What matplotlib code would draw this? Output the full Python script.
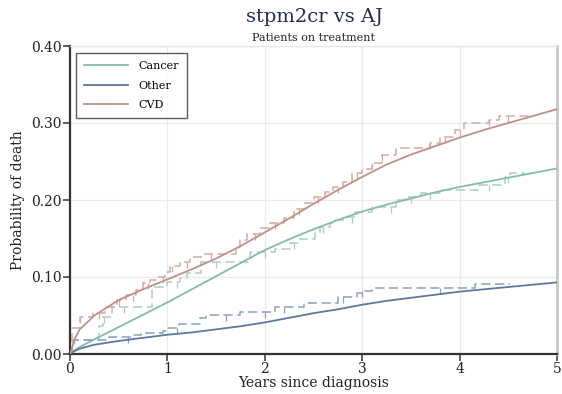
import numpy as np
import matplotlib
matplotlib.use("Agg")
import matplotlib.pyplot as plt

plt.rcParams['font.family'] = ['DejaVu Serif']

# smooth model curves (stpm2cr)
t_grid = [0, 0.05, 0.1, 0.25, 0.5, 0.75, 1, 1.25, 1.5, 1.75, 2, 2.25, 2.5, 2.75,
          3, 3.25, 3.5, 3.75, 4, 4.25, 4.5, 4.75, 5]
cancer_fit = [0, 0.005, 0.009, 0.019, 0.035, 0.051, 0.067, 0.084, 0.101, 0.118, 0.135,
              0.149, 0.162, 0.174, 0.185, 0.194, 0.202, 0.210, 0.217, 0.223, 0.229, 0.235, 0.241]
other_fit = [0, 0.004, 0.007, 0.012, 0.017, 0.021, 0.025, 0.028, 0.032, 0.036, 0.041,
             0.047, 0.053, 0.058, 0.064, 0.069, 0.073, 0.077, 0.081, 0.084, 0.087, 0.090, 0.093]
cvd_fit = [0, 0.020, 0.032, 0.050, 0.070, 0.084, 0.097, 0.110, 0.124, 0.140, 0.158,
           0.176, 0.195, 0.213, 0.230, 0.246, 0.259, 0.270, 0.281, 0.291, 0.300, 0.309, 0.318]

# Aalen-Johansen step estimates
cancer_t = [0, 0.02, 0.03, 0.30, 0.34, 0.43, 0.84, 1.0, 1.13, 1.20, 1.34, 1.85, 2.1, 2.26,
            2.36, 2.52, 2.57, 2.67, 2.72, 2.82, 2.93, 3.1, 3.35, 3.44, 3.6, 3.8, 4.2, 4.47,
            4.52, 4.67]
cancer_aj = [0, 0.009, 0.018, 0.036, 0.048, 0.061, 0.087, 0.094, 0.099, 0.105, 0.120, 0.133,
             0.137, 0.144, 0.150, 0.157, 0.165, 0.170, 0.174, 0.178, 0.184, 0.191, 0.200,
             0.204, 0.209, 0.213, 0.219, 0.230, 0.235, 0.235]
other_t = [0, 0.02, 0.04, 0.40, 0.65, 0.73, 0.95, 1.0, 1.12, 1.33, 1.4, 1.75, 2.1, 2.4,
           2.75, 2.95, 3.0, 3.1, 4.16, 4.52]
other_aj = [0, 0.010, 0.018, 0.022, 0.025, 0.027, 0.030, 0.034, 0.039, 0.047, 0.051, 0.055,
            0.061, 0.066, 0.074, 0.079, 0.082, 0.086, 0.091, 0.091]
cvd_t = [0, 0.02, 0.10, 0.24, 0.36, 0.48, 0.58, 0.68, 0.75, 0.82, 0.88, 0.98, 1.03, 1.13,
         1.23, 1.34, 1.70, 1.75, 1.82, 1.95, 2.05, 2.2, 2.3, 2.4, 2.5, 2.62, 2.7, 2.8, 2.9,
         3.0, 3.1, 3.2, 3.35, 3.7, 3.8, 3.95, 4.05, 4.3, 4.4, 4.75]
cvd_aj = [0, 0.034, 0.048, 0.053, 0.061, 0.070, 0.077, 0.083, 0.092, 0.096, 0.100, 0.107,
          0.114, 0.120, 0.126, 0.130, 0.139, 0.148, 0.156, 0.164, 0.170, 0.176, 0.188, 0.196,
          0.204, 0.210, 0.217, 0.223, 0.235, 0.240, 0.248, 0.258, 0.267, 0.274, 0.282, 0.291,
          0.300, 0.304, 0.309, 0.309]

# censoring times (tick marks)
cancer_cens = [0.35, 0.55, 1.1, 1.5, 2.0, 2.3, 2.6, 2.9, 3.3, 3.5, 3.7, 4.3, 4.5]
other_cens = [0.6, 1.1, 1.6, 2.0, 2.2, 2.8, 3.0, 3.8]
cvd_cens = [0.1, 0.3, 0.5, 0.65, 0.8, 0.95, 1.05, 1.2, 1.45, 1.9, 2.1, 2.35, 2.55, 2.75,
            2.95, 3.1, 3.2, 3.7, 3.85, 4.0, 4.3, 4.5]

labels = ['Cancer', 'Other', 'CVD']
fit_colors = ['#86bba6', '#5c789f', '#bf8f89']
aj_colors = ['#a9cfbf', '#8a9fbe', '#d1aaa6']

fig = plt.figure(figsize=(5.62, 3.94), dpi=100)
ax = fig.add_axes([70/562, 1-354/394, (557-70)/562, (354-46)/394])

series = [(cancer_t, cancer_aj, cancer_fit, cancer_cens),
          (other_t, other_aj, other_fit, other_cens),
          (cvd_t, cvd_aj, cvd_fit, cvd_cens)]
for (st, sv, fv, cens), lab, fc, ac in zip(series, labels, fit_colors, aj_colors):
    ax.step(st, sv, where='post', color=ac, lw=1.1, ls=(0, (6, 3)), zorder=2)
    cv = [sv[np.searchsorted(st, c, side='right') - 1] for c in cens]
    ax.plot(cens, cv, ls='none', marker=3, ms=4, mew=0.9, color=ac, zorder=2)
    ax.plot(t_grid, fv, color=fc, lw=1.3, label=lab, zorder=3)

ax.set_xlim(0, 5)
ax.set_ylim(0, 0.40)
ax.set_xticks([0, 1, 2, 3, 4, 5])
ax.set_yticks([0, 0.1, 0.2, 0.3, 0.4])
ax.set_yticklabels(['0.00', '0.10', '0.20', '0.30', '0.40'])
ax.grid(True, color='#eaeaea', lw=0.9)
ax.set_axisbelow(True)
for s in ['left', 'bottom']:
    ax.spines[s].set_color('#333333')
    ax.spines[s].set_linewidth(1.6)
ax.spines['top'].set_color('#e6e6e6')
ax.spines['top'].set_linewidth(0.9)
ax.spines['right'].set_color('#c8c8c8')
ax.spines['right'].set_linewidth(2.0)
ax.tick_params(axis='both', direction='out', length=5, width=1.1, colors='#333333',
               labelsize=10, labelcolor='#222222', pad=1)

ax.set_xlabel('Years since diagnosis', fontsize=10, color='#222222', labelpad=0)
ax.set_ylabel('Probability of death', fontsize=10, color='#222222', labelpad=4)

leg = ax.legend(loc='upper left', fontsize=8, frameon=True, fancybox=False,
                edgecolor='#333333', handlelength=3.9, borderpad=0.75, labelspacing=0.85,
                handletextpad=1.0, borderaxespad=0, bbox_to_anchor=(0.012, 0.978))
leg.get_frame().set_linewidth(1.0)

fig.text(314/562, 1 - 17/394, 'stpm2cr vs AJ', ha='center', va='center',
         fontsize=14, color='#1f2d55')
fig.text(314/562, 1 - 38/394, 'Patients on treatment', ha='center',
         va='center', fontsize=8, color='#222222')

fig.savefig('out.png', dpi=100)
